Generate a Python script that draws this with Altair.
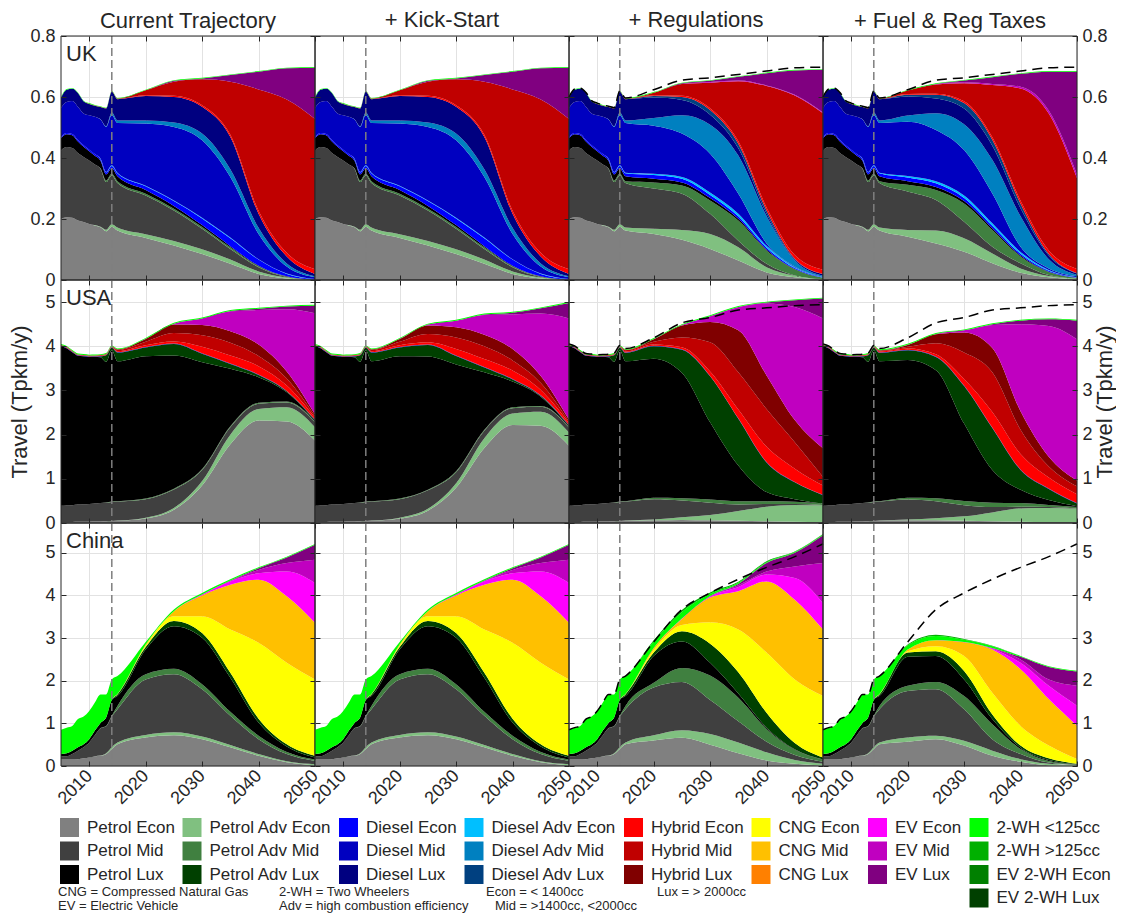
import altair as alt
import pandas as pd

FONT = "Liberation Sans"
INK = "#262626"

# ---------------------------------------------------------------- axes / years
HIST_YEARS = [2005, 2006, 2007, 2008, 2009, 2010, 2011, 2012, 2013, 2014]
FUT_YEARS = [2015, 2020, 2025, 2030, 2035, 2040, 2045, 2050]
YEARS = HIST_YEARS + FUT_YEARS
BASE_YEAR = 2014
X_DOMAIN = [2005, 2050]
X_TICKS = [2010, 2020, 2030, 2040, 2050]

SCENARIOS = ["Current Trajectory", "+ Kick-Start", "+ Regulations", "+ Fuel & Reg Taxes"]
REGIONS = ["UK", "USA", "China"]
Y_MAX = {"UK": 0.8, "USA": 5.5, "China": 5.7}
Y_TICKS = {"UK": [0, 0.2, 0.4, 0.6, 0.8], "USA": [0, 1, 2, 3, 4, 5], "China": [0, 1, 2, 3, 4, 5]}

# stacking order, bottom -> top
CATS = [
    ("PE", "Petrol Econ"), ("PAE", "Petrol Adv Econ"), ("PM", "Petrol Mid"),
    ("PAM", "Petrol Adv Mid"), ("PL", "Petrol Lux"), ("PAL", "Petrol Adv Lux"),
    ("DE", "Diesel Econ"), ("DAE", "Diesel Adv Econ"), ("DM", "Diesel Mid"),
    ("DAM", "Diesel Adv Mid"), ("DL", "Diesel Lux"), ("DAL", "Diesel Adv Lux"),
    ("HE", "Hybrid Econ"), ("HM", "Hybrid Mid"), ("HL", "Hybrid Lux"),
    ("CE", "CNG Econ"), ("CM", "CNG Mid"), ("CL", "CNG Lux"),
    ("EVE", "EV Econ"), ("EVM", "EV Mid"), ("EVL", "EV Lux"),
    ("TW1", "2-WH <125cc"), ("TW2", "2-WH >125cc"), ("ETE", "EV 2-WH Econ"), ("ETL", "EV 2-WH Lux"),
]

COLORS = {
    "Petrol Econ": "#808080", "Petrol Adv Econ": "#80c080", "Petrol Mid": "#404040",
    "Petrol Adv Mid": "#408040", "Petrol Lux": "#000000", "Petrol Adv Lux": "#004000",
    "Diesel Econ": "#0000ff", "Diesel Adv Econ": "#00bfff", "Diesel Mid": "#0000c0",
    "Diesel Adv Mid": "#0080c0", "Diesel Lux": "#000080", "Diesel Adv Lux": "#004080",
    "Hybrid Econ": "#ff0000", "Hybrid Mid": "#c00000", "Hybrid Lux": "#800000",
    "CNG Econ": "#ffff00", "CNG Mid": "#ffc000", "CNG Lux": "#ff8000",
    "EV Econ": "#ff00ff", "EV Mid": "#c000c0", "EV Lux": "#800080",
    "2-WH <125cc": "#00ff00", "2-WH >125cc": "#00b000", "EV 2-WH Econ": "#008000",
    "EV 2-WH Lux": "#004000",
}

LEGEND_ROWS = [
    ["Petrol Econ", "Petrol Adv Econ", "Diesel Econ", "Diesel Adv Econ", "Hybrid Econ", "CNG Econ", "EV Econ", "2-WH <125cc"],
    ["Petrol Mid", "Petrol Adv Mid", "Diesel Mid", "Diesel Adv Mid", "Hybrid Mid", "CNG Mid", "EV Mid", "2-WH >125cc"],
    ["Petrol Lux", "Petrol Adv Lux", "Diesel Lux", "Diesel Adv Lux", "Hybrid Lux", "CNG Lux", "EV Lux", "EV 2-WH Econ"],
    ["_1", "_2", "_3", "_4", "_5", "_6", "_7", "EV 2-WH Lux"],
]

NOTES = [
    "CNG = Compressed Natural Gas", "EV = Electric Vehicle",
    "2-WH = Two Wheelers", "Adv = high combustion efficiency",
    "Econ = < 1400cc", "Mid = >1400cc, <2000cc", "Lux = > 2000cc",
]

# ---------------------------------------------------------------- UK (Tpkm/y)
UK_HIST = {
    "PE":  [0.200, 0.206, 0.204, 0.195, 0.190, 0.184, 0.179, 0.173, 0.160, 0.175],
    "PAE": [0.000, 0.000, 0.000, 0.000, 0.000, 0.000, 0.001, 0.002, 0.005, 0.008],
    "PM":  [0.225, 0.230, 0.229, 0.221, 0.213, 0.208, 0.199, 0.190, 0.156, 0.160],
    "PAM": [0.000, 0.000, 0.000, 0.000, 0.000, 0.000, 0.000, 0.001, 0.005, 0.005],
    "PL":  [0.040, 0.042, 0.042, 0.038, 0.034, 0.030, 0.028, 0.025, 0.020, 0.018],
    "DE":  [0.004, 0.004, 0.004, 0.005, 0.005, 0.005, 0.006, 0.006, 0.007, 0.008],
    "DAE": [0.000, 0.000, 0.000, 0.000, 0.000, 0.000, 0.000, 0.001, 0.001, 0.002],
    "DM":  [0.096, 0.102, 0.108, 0.109, 0.104, 0.113, 0.122, 0.128, 0.148, 0.165],
    "DAM": [0.000, 0.000, 0.000, 0.000, 0.000, 0.000, 0.000, 0.001, 0.002, 0.008],
    "DL":  [0.033, 0.040, 0.040, 0.045, 0.040, 0.037, 0.036, 0.040, 0.058, 0.068],
    "HE":  [0.000, 0.000, 0.000, 0.000, 0.000, 0.001, 0.001, 0.001, 0.001, 0.001],
    "TW1": [0.002, 0.002, 0.002, 0.002, 0.002, 0.002, 0.002, 0.002, 0.002, 0.002],
}
UK_CT = {
    "PE":  [0.162, 0.138, 0.113, 0.085, 0.053, 0.020, 0.005, 0.000],
    "PAE": [0.010, 0.012, 0.015, 0.016, 0.014, 0.008, 0.003, 0.001],
    "PM":  [0.146, 0.127, 0.100, 0.067, 0.035, 0.014, 0.002, 0.000],
    "PAM": [0.006, 0.006, 0.006, 0.006, 0.005, 0.003, 0.001, 0.000],
    "PL":  [0.016, 0.012, 0.009, 0.006, 0.004, 0.002, 0.001, 0.000],
    "DE":  [0.010, 0.012, 0.016, 0.022, 0.026, 0.020, 0.008, 0.002],
    "DAE": [0.002, 0.002, 0.002, 0.002, 0.002, 0.001, 0.001, 0.000],
    "DM":  [0.163, 0.204, 0.241, 0.254, 0.199, 0.083, 0.023, 0.006],
    "DAM": [0.008, 0.010, 0.014, 0.022, 0.025, 0.020, 0.010, 0.003],
    "DL":  [0.070, 0.080, 0.084, 0.088, 0.106, 0.046, 0.023, 0.008],
    "HE":  [0.001, 0.003, 0.004, 0.005, 0.007, 0.010, 0.012, 0.015],
    "HM":  [0.001, 0.016, 0.046, 0.085, 0.174, 0.398, 0.503, 0.493],
    "EVL": [0.000, 0.000, 0.003, 0.003, 0.022, 0.058, 0.102, 0.168],
    "TW1": [0.002, 0.002, 0.002, 0.002, 0.002, 0.002, 0.002, 0.002],
}
UK_KS = UK_CT
UK_REG = {
    "PE":  [0.162, 0.151, 0.132, 0.102, 0.064, 0.025, 0.009, 0.002],
    "PAE": [0.010, 0.017, 0.032, 0.049, 0.043, 0.017, 0.005, 0.001],
    "PM":  [0.146, 0.132, 0.119, 0.066, 0.022, 0.011, 0.001, 0.000],
    "PAM": [0.006, 0.020, 0.027, 0.044, 0.066, 0.044, 0.020, 0.004],
    "PL":  [0.016, 0.012, 0.010, 0.008, 0.006, 0.003, 0.001, 0.000],
    "DE":  [0.010, 0.012, 0.012, 0.010, 0.008, 0.006, 0.003, 0.001],
    "DAE": [0.002, 0.004, 0.006, 0.008, 0.008, 0.006, 0.003, 0.001],
    "DM":  [0.163, 0.158, 0.142, 0.127, 0.066, 0.008, 0.002, 0.001],
    "DAM": [0.008, 0.025, 0.060, 0.095, 0.125, 0.090, 0.020, 0.004],
    "DL":  [0.070, 0.067, 0.050, 0.033, 0.024, 0.008, 0.003, 0.005],
    "DAL": [0.000, 0.005, 0.010, 0.015, 0.015, 0.010, 0.003, 0.001],
    "HE":  [0.001, 0.003, 0.004, 0.006, 0.008, 0.010, 0.012, 0.014],
    "HM":  [0.001, 0.008, 0.039, 0.084, 0.197, 0.398, 0.523, 0.513],
    "EVM": [0.000, 0.000, 0.000, 0.002, 0.002, 0.002, 0.002, 0.002],
    "EVL": [0.000, 0.000, 0.002, 0.004, 0.012, 0.040, 0.080, 0.140],
    "TW1": [0.002, 0.002, 0.002, 0.002, 0.002, 0.002, 0.002, 0.002],
}
UK_FRT = {
    "PE":  [0.162, 0.142, 0.120, 0.093, 0.055, 0.024, 0.009, 0.002],
    "PAE": [0.010, 0.022, 0.042, 0.044, 0.032, 0.014, 0.004, 0.002],
    "PM":  [0.146, 0.126, 0.100, 0.054, 0.022, 0.017, 0.003, 0.000],
    "PAM": [0.006, 0.022, 0.033, 0.060, 0.055, 0.022, 0.010, 0.003],
    "PL":  [0.016, 0.012, 0.010, 0.008, 0.006, 0.003, 0.001, 0.000],
    "DE":  [0.010, 0.012, 0.012, 0.010, 0.008, 0.006, 0.003, 0.001],
    "DAE": [0.002, 0.005, 0.007, 0.008, 0.008, 0.006, 0.003, 0.001],
    "DM":  [0.163, 0.178, 0.168, 0.149, 0.098, 0.017, 0.005, 0.003],
    "DAM": [0.008, 0.020, 0.055, 0.085, 0.110, 0.100, 0.030, 0.005],
    "DL":  [0.070, 0.063, 0.048, 0.051, 0.046, 0.026, 0.012, 0.004],
    "DAL": [0.000, 0.005, 0.012, 0.018, 0.020, 0.015, 0.005, 0.001],
    "HE":  [0.001, 0.003, 0.004, 0.006, 0.008, 0.010, 0.012, 0.014],
    "HM":  [0.001, 0.011, 0.030, 0.059, 0.171, 0.368, 0.449, 0.298],
    "EVM": [0.000, 0.000, 0.002, 0.003, 0.004, 0.006, 0.010, 0.012],
    "EVL": [0.000, 0.000, 0.000, 0.006, 0.022, 0.042, 0.127, 0.337],
    "TW1": [0.002, 0.002, 0.002, 0.002, 0.002, 0.002, 0.002, 0.002],
}

# ---------------------------------------------------------------- USA (Tpkm/y)
USA_HIST = {
    "PE":  [0.020, 0.022, 0.024, 0.026, 0.028, 0.030, 0.033, 0.036, 0.040, 0.045],
    "PAE": [0.000, 0.000, 0.000, 0.000, 0.000, 0.000, 0.000, 0.000, 0.000, 0.003],
    "PM":  [0.370, 0.375, 0.380, 0.390, 0.395, 0.400, 0.410, 0.415, 0.420, 0.430],
    "PAM": [0.000, 0.000, 0.000, 0.000, 0.000, 0.000, 0.000, 0.000, 0.005, 0.010],
    "PL":  [3.610, 3.560, 3.460, 3.370, 3.350, 3.330, 3.320, 3.300, 3.180, 3.420],
    "PAL": [0.000, 0.000, 0.000, 0.000, 0.000, 0.000, 0.000, 0.020, 0.150, 0.060],
    "DM":  [0.010, 0.010, 0.010, 0.010, 0.010, 0.010, 0.010, 0.010, 0.010, 0.010],
    "HE":  [0.010, 0.010, 0.010, 0.010, 0.010, 0.010, 0.010, 0.010, 0.010, 0.010],
    "HM":  [0.010, 0.010, 0.010, 0.010, 0.010, 0.010, 0.010, 0.010, 0.010, 0.010],
    "TW1": [0.020, 0.020, 0.020, 0.020, 0.020, 0.020, 0.020, 0.020, 0.020, 0.020],
}
USA_CT = {
    "PE":  [0.050, 0.100, 0.300, 0.850, 1.780, 2.320, 2.300, 1.870],
    "PAE": [0.005, 0.020, 0.040, 0.100, 0.220, 0.260, 0.320, 0.300],
    "PM":  [0.430, 0.420, 0.420, 0.250, 0.170, 0.120, 0.110, 0.110],
    "PAM": [0.010, 0.015, 0.015, 0.020, 0.020, 0.020, 0.020, 0.020],
    "PL":  [3.165, 3.220, 3.015, 2.420, 1.300, 0.580, 0.210, 0.020],
    "PAL": [0.200, 0.200, 0.260, 0.190, 0.110, 0.050, 0.020, 0.010],
    "DM":  [0.010, 0.010, 0.010, 0.010, 0.010, 0.010, 0.010, 0.010],
    "HE":  [0.020, 0.040, 0.050, 0.150, 0.180, 0.190, 0.120, 0.040],
    "HM":  [0.030, 0.080, 0.190, 0.260, 0.290, 0.230, 0.160, 0.040],
    "HL":  [0.010, 0.060, 0.190, 0.230, 0.260, 0.260, 0.160, 0.040],
    "EVM": [0.000, 0.005, 0.020, 0.150, 0.450, 0.780, 1.410, 2.290],
    "EVL": [0.000, 0.000, 0.000, 0.000, 0.010, 0.030, 0.060, 0.170],
    "TW1": [0.020, 0.020, 0.020, 0.020, 0.020, 0.020, 0.020, 0.020],
}
USA_KS = dict(USA_CT)
USA_KS["PE"] = [0.050, 0.100, 0.280, 0.800, 1.700, 2.220, 2.200, 1.750]
USA_KS["EVL"] = [0.000, 0.000, 0.000, 0.000, 0.010, 0.040, 0.120, 0.350]
USA_REG = {
    "PE":  [0.050, 0.060, 0.070, 0.060, 0.050, 0.040, 0.030, 0.020],
    "PAE": [0.005, 0.020, 0.060, 0.120, 0.220, 0.330, 0.380, 0.380],
    "PM":  [0.430, 0.460, 0.380, 0.280, 0.150, 0.060, 0.020, 0.010],
    "PAM": [0.010, 0.030, 0.050, 0.070, 0.070, 0.060, 0.050, 0.030],
    "PL":  [3.165, 3.150, 2.840, 1.750, 0.810, 0.210, 0.060, 0.000],
    "PAL": [0.190, 0.280, 0.520, 1.040, 1.060, 0.670, 0.380, 0.190],
    "DM":  [0.010, 0.010, 0.010, 0.010, 0.010, 0.010, 0.010, 0.010],
    "HE":  [0.020, 0.030, 0.050, 0.100, 0.200, 0.350, 0.300, 0.210],
    "HM":  [0.030, 0.060, 0.220, 0.660, 0.840, 0.850, 0.600, 0.190],
    "HL":  [0.010, 0.060, 0.270, 0.460, 0.950, 0.760, 0.500, 0.650],
    "EVM": [0.000, 0.005, 0.010, 0.130, 0.530, 1.630, 2.560, 2.940],
    "EVL": [0.000, 0.000, 0.000, 0.000, 0.000, 0.020, 0.150, 0.450],
    "TW1": [0.020, 0.020, 0.020, 0.020, 0.020, 0.020, 0.020, 0.020],
}
USA_FRT = {
    "PE":  [0.050, 0.060, 0.060, 0.050, 0.040, 0.030, 0.020, 0.020],
    "PAE": [0.005, 0.020, 0.050, 0.100, 0.200, 0.300, 0.320, 0.300],
    "PM":  [0.430, 0.450, 0.380, 0.250, 0.120, 0.040, 0.020, 0.010],
    "PAM": [0.010, 0.040, 0.070, 0.100, 0.100, 0.080, 0.050, 0.030],
    "PL":  [3.165, 3.120, 2.900, 1.750, 0.740, 0.300, 0.110, 0.020],
    "PAL": [0.190, 0.220, 0.300, 0.850, 0.950, 0.450, 0.250, 0.060],
    "DM":  [0.010, 0.010, 0.010, 0.010, 0.010, 0.010, 0.010, 0.010],
    "HE":  [0.020, 0.030, 0.050, 0.150, 0.350, 0.350, 0.250, 0.200],
    "HM":  [0.020, 0.040, 0.250, 0.600, 0.900, 0.550, 0.250, 0.180],
    "HL":  [0.010, 0.040, 0.200, 0.450, 0.550, 0.420, 0.220, 0.130],
    "EVM": [0.000, 0.005, 0.010, 0.050, 0.520, 1.970, 2.960, 3.200],
    "EVL": [0.000, 0.000, 0.000, 0.000, 0.020, 0.080, 0.150, 0.420],
    "TW1": [0.020, 0.020, 0.020, 0.020, 0.020, 0.020, 0.020, 0.020],
}

# ---------------------------------------------------------------- China (Tpkm/y)
CHINA_HIST = {
    "PE":  [0.150, 0.150, 0.150, 0.160, 0.180, 0.200, 0.230, 0.240, 0.280, 0.400],
    "PAE": [0.000, 0.000, 0.000, 0.000, 0.000, 0.000, 0.000, 0.005, 0.020, 0.040],
    "PM":  [0.080, 0.080, 0.130, 0.200, 0.260, 0.350, 0.490, 0.640, 0.630, 0.720],
    "PAM": [0.000, 0.000, 0.000, 0.000, 0.000, 0.000, 0.000, 0.005, 0.010, 0.020],
    "PL":  [0.050, 0.070, 0.080, 0.080, 0.070, 0.080, 0.110, 0.120, 0.200, 0.370],
    "TW1": [0.570, 0.600, 0.580, 0.660, 0.650, 0.660, 0.660, 0.670, 0.540, 0.480],
}
CHINA_CT = {
    "PE":  [0.510, 0.670, 0.720, 0.630, 0.440, 0.240, 0.090, 0.020],
    "PAE": [0.040, 0.060, 0.070, 0.060, 0.050, 0.040, 0.020, 0.020],
    "PM":  [0.780, 1.300, 1.360, 1.110, 0.690, 0.350, 0.170, 0.080],
    "PAM": [0.080, 0.120, 0.130, 0.120, 0.090, 0.080, 0.050, 0.030],
    "PL":  [0.230, 0.580, 1.000, 1.090, 0.800, 0.310, 0.130, 0.050],
    "PAL": [0.040, 0.060, 0.120, 0.110, 0.120, 0.090, 0.050, 0.040],
    "CE":  [0.005, 0.030, 0.110, 0.390, 1.010, 1.780, 1.910, 1.790],
    "CM":  [0.005, 0.030, 0.120, 0.490, 1.050, 1.480, 1.560, 1.330],
    "EVE": [0.000, 0.000, 0.000, 0.020, 0.080, 0.150, 0.580, 0.930],
    "EVM": [0.000, 0.000, 0.000, 0.000, 0.010, 0.080, 0.200, 0.550],
    "EVL": [0.000, 0.000, 0.000, 0.000, 0.010, 0.040, 0.130, 0.350],
    "TW1": [0.420, 0.060, 0.040, 0.040, 0.030, 0.020, 0.020, 0.020],
}
CHINA_KS = CHINA_CT
CHINA_REG = {
    "PE":  [0.510, 0.600, 0.660, 0.500, 0.300, 0.130, 0.050, 0.010],
    "PAE": [0.040, 0.120, 0.180, 0.250, 0.250, 0.190, 0.090, 0.040],
    "PM":  [0.780, 1.120, 1.130, 0.800, 0.500, 0.250, 0.120, 0.050],
    "PAM": [0.080, 0.110, 0.330, 0.570, 0.550, 0.300, 0.120, 0.050],
    "PL":  [0.230, 0.630, 0.620, 0.300, 0.100, 0.030, 0.010, 0.000],
    "PAL": [0.040, 0.080, 0.240, 0.450, 0.500, 0.350, 0.150, 0.050],
    "CE":  [0.005, 0.060, 0.150, 0.500, 1.000, 1.410, 1.490, 1.440],
    "CM":  [0.005, 0.050, 0.140, 0.580, 0.900, 1.670, 1.870, 1.560],
    "EVE": [0.000, 0.000, 0.010, 0.020, 0.100, 0.160, 0.510, 0.620],
    "EVM": [0.000, 0.000, 0.000, 0.010, 0.040, 0.070, 0.270, 0.940],
    "EVL": [0.000, 0.000, 0.000, 0.010, 0.030, 0.200, 0.320, 0.650],
    "TW1": [0.420, 0.150, 0.150, 0.050, 0.030, 0.020, 0.020, 0.020],
    "TW2": [0.000, 0.030, 0.050, 0.030, 0.020, 0.020, 0.010, 0.010],
}
CHINA_FRT = {
    "PE":  [0.510, 0.570, 0.630, 0.480, 0.240, 0.100, 0.020, 0.010],
    "PAE": [0.040, 0.100, 0.080, 0.110, 0.120, 0.060, 0.030, 0.010],
    "PM":  [0.780, 1.090, 1.090, 0.740, 0.270, 0.120, 0.030, 0.010],
    "PAM": [0.080, 0.120, 0.170, 0.310, 0.350, 0.120, 0.040, 0.010],
    "PL":  [0.230, 0.680, 0.610, 0.390, 0.120, 0.030, 0.020, 0.005],
    "PAL": [0.040, 0.100, 0.110, 0.200, 0.110, 0.050, 0.040, 0.010],
    "CE":  [0.005, 0.030, 0.120, 0.350, 0.510, 0.460, 0.300, 0.110],
    "CM":  [0.005, 0.040, 0.140, 0.320, 1.010, 1.330, 1.090, 0.780],
    "EVE": [0.000, 0.000, 0.000, 0.010, 0.020, 0.150, 0.310, 0.470],
    "EVM": [0.000, 0.000, 0.000, 0.000, 0.010, 0.080, 0.150, 0.470],
    "EVL": [0.000, 0.000, 0.000, 0.000, 0.010, 0.060, 0.290, 0.330],
    "TW1": [0.420, 0.100, 0.100, 0.050, 0.040, 0.020, 0.020, 0.020],
    "TW2": [0.000, 0.020, 0.030, 0.020, 0.010, 0.000, 0.000, 0.000],
}

HIST = {"UK": UK_HIST, "USA": USA_HIST, "China": CHINA_HIST}
FUT = {
    "UK": [UK_CT, UK_KS, UK_REG, UK_FRT],
    "USA": [USA_CT, USA_KS, USA_REG, USA_FRT],
    "China": [CHINA_CT, CHINA_KS, CHINA_REG, CHINA_FRT],
}

# ---------------------------------------------------------------- layout
PANEL_W = 254
PANEL_H = {"UK": 244, "USA": 243, "China": 243}
GRID = "#e2e2e2"


def series(hist, fut, key):
    h = hist.get(key, [0.0] * len(HIST_YEARS))
    f = fut.get(key, [0.0] * len(FUT_YEARS))
    return h + f


def panel_df(hist, fut):
    rows = []
    for idx, (key, name) in enumerate(CATS):
        if key not in hist and key not in fut:
            continue
        for yr, v in zip(YEARS, series(hist, fut, key)):
            rows.append({"year": yr, "cat": name, "order": idx, "value": v})
    return pd.DataFrame(rows)


def total_df(hist, fut):
    tot = [0.0] * len(YEARS)
    for key, _ in CATS:
        if key in hist or key in fut:
            tot = [a + b for a, b in zip(tot, series(hist, fut, key))]
    return pd.DataFrame({"year": YEARS, "value": tot})


legend_domain = [n for row in LEGEND_ROWS for n in row]
legend_range = [COLORS.get(n, "transparent") for n in legend_domain]

LEGEND = alt.Legend(
    orient="none", legendX=-1, legendY=782, columns=8, direction="horizontal", title=None,
    symbolType="square", symbolSize=361, symbolStrokeWidth=0, symbolOpacity=1, symbolLimit=0,
    labelFontSize=17, labelFont=FONT, labelColor=INK, labelOffset=8, labelLimit=0,
    columnPadding=7.5, rowPadding=4.5, padding=0, gridAlign="each",
    labelExpr="indexof(datum.label, '_') == 0 ? '' : datum.label",
)


def make_panel(r, c):
    region = REGIONS[r]
    hist = HIST[region]
    fut = FUT[region][c]
    H = PANEL_H[region]
    W = PANEL_W
    xs = alt.Scale(domain=X_DOMAIN, nice=False, zero=False)
    ys = alt.Scale(domain=[0, Y_MAX[region]], nice=False)

    x_axis = alt.Axis(
        values=X_TICKS, grid=True, gridColor=GRID, gridWidth=1, ticks=False, tickSize=0,
        domain=False, labels=(r == 2), labelAngle=315, labelAlign="right",
        labelBaseline="middle", labelFontSize=18, labelFont=FONT, labelColor=INK,
        labelPadding=7, format="d", title=None, zindex=0,
    )
    y_axis = alt.Axis(
        values=Y_TICKS[region], grid=True, gridColor=GRID, gridWidth=1, ticks=False,
        tickSize=0, domain=False, labels=(c == 0), labelFontSize=18, labelFont=FONT,
        labelColor=INK, labelPadding=6, format="~g", minExtent=0,
        title=("Travel (Tpkm/y)" if (c == 0 and r == 1) else None),
        titleFontSize=22, titleFontWeight="normal", titleFont=FONT, titleColor=INK,
        titlePadding=13, zindex=0,
    )
    areas = alt.Chart(panel_df(hist, fut)).mark_area(interpolate="monotone", opacity=1).encode(
        x=alt.X("year:Q", scale=xs, axis=x_axis),
        y=alt.Y("value:Q", stack="zero", scale=ys, axis=y_axis),
        color=alt.Color("cat:N", scale=alt.Scale(domain=legend_domain, range=legend_range), legend=LEGEND),
        order=alt.Order("order:Q", sort="ascending"),
    )

    # inward tick marks on all four sides (short dashes of the grid lines)
    tick_x = alt.Axis(
        orient="top", values=X_TICKS, grid=True, gridColor=INK, gridWidth=1,
        gridDash=[5, H - 10], ticks=False, labels=False, domain=False, title=None, zindex=1,
    )
    tick_y = alt.Axis(
        orient="right", values=Y_TICKS[region], grid=True, gridColor=INK, gridWidth=1,
        gridDash=[5, W - 10], ticks=False, tickSize=0, domain=False, labels=(c == 3),
        labelFontSize=18, labelFont=FONT, labelColor=INK, labelPadding=5, format="~g",
        minExtent=0,
        title=("Travel (Tpkm/y)" if (c == 3 and r == 1) else None),
        titleFontSize=22, titleFontWeight="normal", titleFont=FONT, titleColor=INK,
        titleAngle=270, titleBaseline="top", titlePadding=2, zindex=1,
    )
    helper = alt.Chart(pd.DataFrame({"year": X_DOMAIN, "value": [0, 0]})).mark_point(opacity=0).encode(
        x=alt.X("year:Q", scale=xs, axis=tick_x),
        y=alt.Y("value:Q", scale=ys, axis=tick_y),
    )

    vline = alt.Chart(pd.DataFrame({"year": [BASE_YEAR]})).mark_rule(
        color="#7f7f7f", strokeDash=[8, 4], strokeWidth=1.5
    ).encode(x=alt.X("year:Q", scale=xs, axis=None))

    layers = [areas, helper, vline]

    if c >= 2:
        ct_line = alt.Chart(total_df(hist, FUT[region][0])).mark_line(
            color="black", strokeDash=[10, 6], strokeWidth=1.5, interpolate="monotone"
        ).encode(
            x=alt.X("year:Q", scale=xs, axis=None),
            y=alt.Y("value:Q", scale=ys, axis=None),
        )
        layers.append(ct_line)

    if c == 0:
        layers.append(
            alt.Chart(pd.DataFrame({"t": [region]})).mark_text(
                align="left", baseline="alphabetic", fontSize=22, font=FONT, color=INK
            ).encode(x=alt.value(5), y=alt.value(25), text="t:N")
        )

    if r == 2 and c == 0:
        note_pos = [(-3, 369), (-3, 383), (218, 369), (218, 383), (425, 369), (434, 383), (596, 369)]
        for txt, (px, py) in zip(NOTES, note_pos):
            layers.append(
                alt.Chart(pd.DataFrame({"t": [txt]})).mark_text(
                    align="left", baseline="middle", fontSize=13, font=FONT, color=INK
                ).encode(x=alt.value(px), y=alt.value(py), text="t:N")
            )

    frame = alt.Chart(pd.DataFrame({"f": [0]})).mark_rect(
        filled=False, stroke=INK, strokeWidth=1
    ).encode(x=alt.value(0), x2=alt.value(W), y=alt.value(0), y2=alt.value(H))
    layers.append(frame)

    props = dict(width=W, height=H)
    if r == 0:
        # the outer panels carry tick labels that poke above the frame; compensate
        props["title"] = alt.TitleParams(
            text=SCENARIOS[c], fontSize=22, fontWeight="normal", font=FONT, color=INK,
            offset=(-6 if c in (0, 3) else 3), anchor="middle", frame="group",
        )
    return alt.layer(*layers).resolve_axis(x="independent", y="independent").properties(**props)


panels = [make_panel(r, c) for r in range(3) for c in range(4)]

chart = (
    alt.concat(*panels, columns=4, spacing=0, bounds="flush")
    .properties(padding=0)
    .configure(font=FONT)
    .configure_view(stroke="transparent")
)

chart.save("out.html", embed_options={"renderer": "svg", "actions": False})
